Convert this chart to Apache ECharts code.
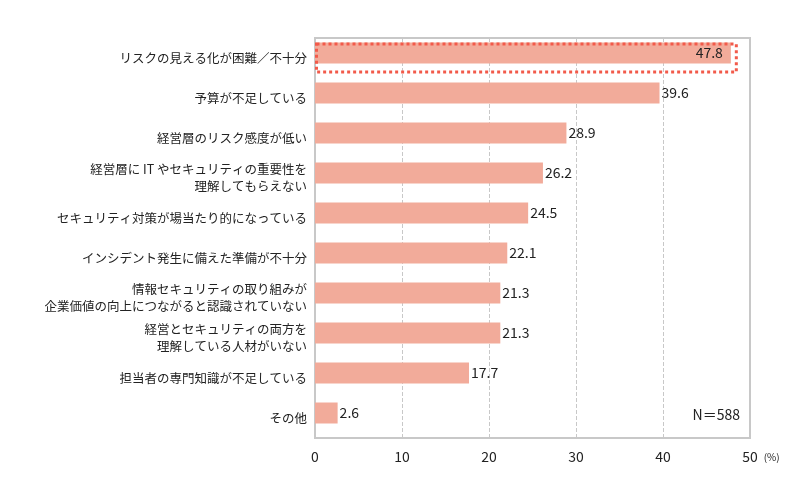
<!DOCTYPE html>
<html><head><meta charset="utf-8">
<script src="https://cdn.jsdelivr.net/npm/echarts@6/dist/echarts.min.js"></script>
<style>html,body{margin:0;background:#fff}#c{width:800px;height:500px}</style>
</head><body><div id="c"></div>
<script>
const categories = ['リスクの見える化が困難／不十分','予算が不足している','経営層のリスク感度が低い','経営層に IT やセキュリティの重要性を\n理解してもらえない','セキュリティ対策が場当たり的になっている','インシデント発生に備えた準備が不十分','情報セキュリティの取り組みが\n企業価値の向上につながると認識されていない','経営とセキュリティの両方を\n理解している人材がいない','担当者の専門知識が不足している','その他'];
const values = [47.8,39.6,28.9,26.2,24.5,22.1,21.3,21.3,17.7,2.6];
const highlight = [48.6,null,null,null,null,null,null,null,null,null];
const xTicks = [0,10,20,30,40,50];
const font = '"Noto Sans CJK JP", sans-serif';
const chart = echarts.init(document.getElementById('c'));
chart.setOption({
  animation:false,
  textStyle:{fontFamily:font},
  grid:{left:315,right:50,top:38,bottom:62,show:true,borderColor:'#c8c8c8',borderWidth:2},
  xAxis:{type:'value',min:0,max:50,interval:10,
    axisLine:{show:false},axisTick:{show:false},
    axisLabel:{color:'#222',fontSize:14,fontFamily:font,margin:12},
    splitLine:{lineStyle:{type:'dashed',color:'#c8c8c8'}},
    name:'(%)',nameLocation:'end',nameGap:6,nameTextStyle:{fontSize:10,color:'#222',verticalAlign:'top',padding:[14,0,0,0]}},
  yAxis:{type:'category',data:categories,inverse:true,
    axisLine:{show:false},axisTick:{show:false},
    axisLabel:{color:'#222',fontSize:12.5,lineHeight:17,margin:8,fontFamily:font}},
  series:[
    {type:'bar',data:values,barWidth:21,itemStyle:{color:'#f2ab9a'},
     label:{show:true,position:'right',distance:2,color:'#222',fontSize:14,
       formatter:p=>p.value.toFixed(1)}},
    {type:'bar',data:highlight,barWidth:31,barGap:'-100%',silent:true,
     itemStyle:{color:'rgba(0,0,0,0)',borderColor:'#f25a4a',borderWidth:3,borderType:[3,3]},
     z:3}
  ],
  graphic:[{type:'text',right:60,top:408,style:{text:'N＝588',fontSize:14,fill:'#222',fontFamily:font}}]
});
// move first label inside
chart.setOption({series:[{data:values.map((v,i)=>i===0?{value:v,label:{position:'insideRight',distance:8}}:v)}]});
</script></body></html>
